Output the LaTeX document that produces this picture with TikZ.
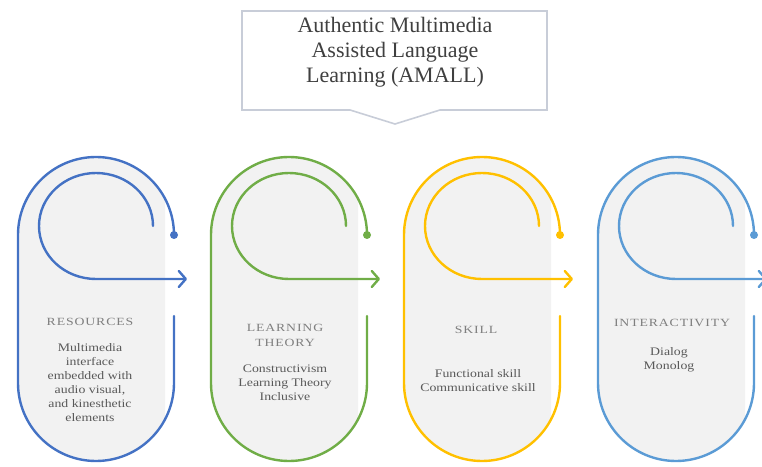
\documentclass[tikz,border=0pt]{standalone}
\usepackage{fontspec}
\setmainfont{Liberation Serif}
\newfontfamily\headfont[FakeStretch=1.25,LetterSpace=8]{Liberation Serif}
\newfontfamily\bodyfont[FakeStretch=1.2]{Liberation Serif}
\usetikzlibrary{arrows.meta}

\definecolor{ringblue}{HTML}{4472C4}
\definecolor{ringgreen}{HTML}{70AD47}
\definecolor{ringgold}{HTML}{FFC000}
\definecolor{ringsky}{HTML}{5B9BD5}
\definecolor{panelgray}{HTML}{F2F2F2}
\definecolor{calloutline}{HTML}{C8CDD8}
\definecolor{titlegray}{HTML}{404040}
\definecolor{headgray}{HTML}{7F7F7F}
\definecolor{bodygray}{HTML}{595959}

% one looped ring: #1 centre x, #2 colour
\newcommand\amallring[2]{%
  \begin{scope}
    \clip (#1-80,0) rectangle (#1+69,466);
    \fill[panelgray] (#1+77,83) arc (0:-180:77) -- (#1-77,231) arc (180:0:77) -- cycle;
  \end{scope}
  \draw[ring,#2] (#1+78,150) -- (#1+78,83) arc (0:-180:78) -- (#1-78,231) arc (180:0:78);
  \fill[#2] (#1+78,231) circle (4);
  \draw[ring,#2,-{Straight Barb[length=7pt,width=16pt,round]}]
    (#1+57,240) arc (0:270:57 and 53) -- (#1+91,187);
}

\begin{document}
\begin{tikzpicture}[x=1pt,y=1pt,
  ring/.style={line width=2.4pt, line cap=round},
  titletext/.style={font=\fontsize{22}{25}\selectfont, text=titlegray, align=center, inner sep=0},
  headtext/.style={font=\headfont\fontsize{11}{15}\selectfont, text=headgray, align=center, inner sep=0},
  bodytext/.style={font=\bodyfont\fontsize{11.5}{14}\selectfont, text=bodygray, align=center, inner sep=0},
]
\useasboundingbox (0,0) rectangle (762,466);

% callout with the title
\draw[calloutline, line width=1.6pt, fill=white]
  (242,455) -- (547,455) -- (547,356) -- (440,356) -- (395,342) -- (350,356) -- (242,356) -- cycle;
\node[titletext] (title) at (395,414) {Authentic Multimedia\\Assisted Language\\Learning (AMALL)};

% the four rings
\amallring{96}{ringblue}
\amallring{289}{ringgreen}
\amallring{482}{ringgold}
\amallring{676}{ringsky}

% ring texts
\node[headtext] (h1) at (90,144) {RESOURCES};
\node[bodytext] (b1) at (90,83) {Multimedia\\interface\\embedded with\\audio visual,\\and kinesthetic\\elements};

\node[headtext] (h2) at (285,130.5) {LEARNING\\THEORY};
\node[bodytext] (b2) at (285,83) {Constructivism\\Learning Theory\\Inclusive};

\node[headtext] (h3) at (476,136) {SKILL};
\node[bodytext] (b3) at (478,85.5) {Functional skill\\Communicative skill};

\node[headtext] (h4) at (672,143) {INTERACTIVITY};
\node[bodytext] (b4) at (669,106) {Dialog\\Monolog};
\end{tikzpicture}
\end{document}
